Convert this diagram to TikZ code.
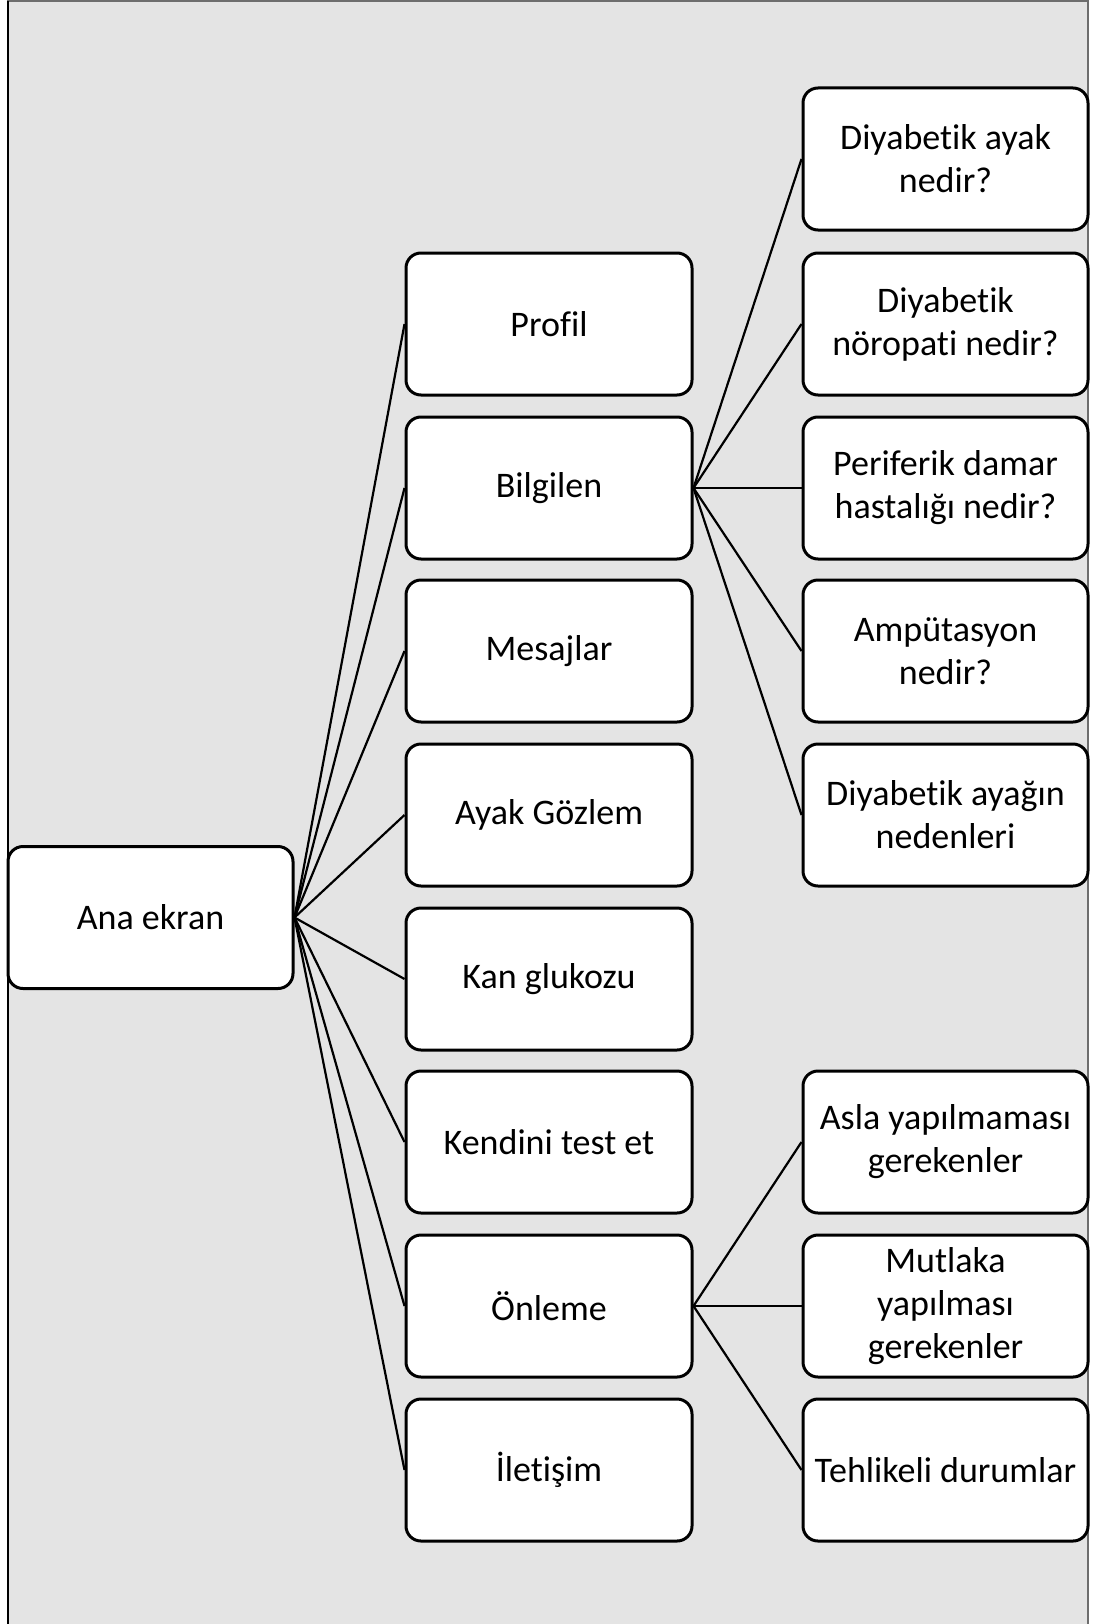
\documentclass[tikz,border=0pt]{standalone}
\usepackage{fontspec}
\setmainfont{Carlito}[Ligatures={NoCommon,NoContextual}]
\begin{document}
\begin{tikzpicture}[x=1pt,y=-1pt,
  box/.style={draw=black, line width=3pt, rounded corners=15pt, fill=white,
    minimum width=#1, minimum height=142pt, inner sep=0pt, align=center,
    font=\fontsize{36}{43}\selectfont},
  box/.default=285pt,
  link/.style={draw=black, line width=2.2pt}]
\useasboundingbox (0,0) rectangle (1094,1624);
\fill[white] (0,0) rectangle (1094,1624);
\fill[fill={rgb,255:red,228;green,228;blue,228}] (8,1) rectangle (1088,1624);
\draw[line width=1.5pt, color={rgb,255:red,110;green,110;blue,110}] (8,1624) -- (8,1) -- (1088,1) -- (1088,1624);
\draw[line width=1.5pt, black] (8,1624) -- (8,1);

% root
\node[box=285pt] (ana) at (150.5,917.5) {Ana ekran};

% middle column
\node[box=286pt] (profil)   at (549,324)  {Profil};
\node[box=286pt] (bilgi)    at (549,488)  {Bilgilen};
\node[box=286pt] (mesaj)    at (549,651)  {Mesajlar};
\node[box=286pt] (ayak)     at (549,815)  {Ayak Gözlem};
\node[box=286pt] (kan)      at (549,979)  {Kan glukozu};
\node[box=286pt] (kendini)  at (549,1142) {Kendini test et};
\node[box=286pt] (onleme)   at (549,1306) {Önleme};
\node[box=286pt] (iletisim) at (549,1470) {İletişim};

% right column (Bilgilen)
\node[box] (r1) at (945.5,159)  {Diyabetik ayak\\nedir?};
\node[box] (r2) at (945.5,324)  {Diyabetik\\nöropati nedir?};
\node[box] (r3) at (945.5,488)  {Periferik damar\\hastalığı nedir?};
\node[box] (r4) at (945.5,651)  {Ampütasyon\\nedir?};
\node[box] (r5) at (945.5,815)  {Diyabetik ayağın\\nedenleri};

% right column (Önleme)
\node[box] (s1) at (945.5,1142) {Asla yapılmaması\\gerekenler};
\node[box] (s2) at (945.5,1306) {Mutlaka\\yapılması\\gerekenler};
\node[box] (s3) at (945.5,1470) {Tehlikeli durumlar};

% connectors
\foreach \m in {profil,bilgi,mesaj,ayak,kan,kendini,onleme,iletisim}
  \draw[link] (ana.east) -- (\m.west);
\foreach \r in {r1,r2,r3,r4,r5}
  \draw[link] (bilgi.east) -- (\r.west);
\foreach \s in {s1,s2,s3}
  \draw[link] (onleme.east) -- (\s.west);
\end{tikzpicture}
\end{document}
